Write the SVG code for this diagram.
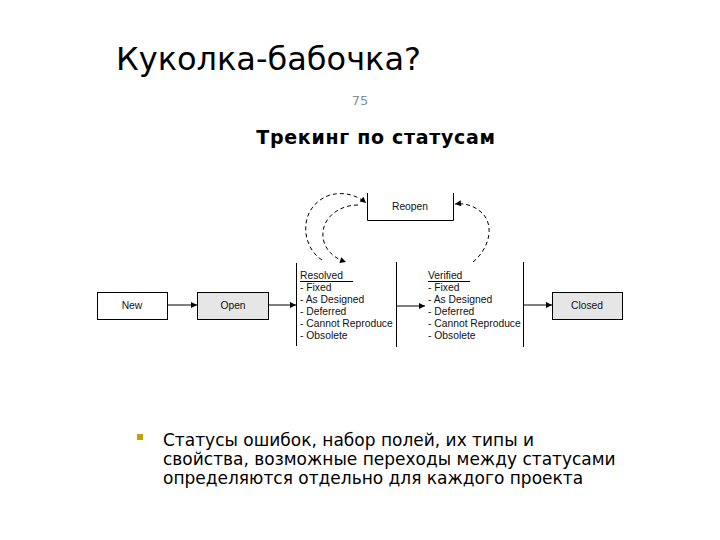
<svg xmlns="http://www.w3.org/2000/svg" width="720" height="540" viewBox="0 0 720 540">
<style>
.box{stroke:#000;stroke-width:1}
.lbl{font-family:"Liberation Sans",Arial,sans-serif;font-size:10.3px;fill:#111}
.mid{text-anchor:middle}
.ln{stroke:#000;stroke-width:1;fill:none}
.dash{stroke:#000;stroke-width:1;fill:none;stroke-dasharray:4,3}
.head{font-family:"DejaVu Sans",sans-serif;fill:#000}
</style>
<defs>
<marker id="ah" viewBox="0 0 10 10" refX="10" refY="5" markerWidth="7" markerHeight="6" orient="auto" markerUnits="userSpaceOnUse">
<path d="M0,0 L10,5 L0,10 z" fill="#000"/>
</marker>
</defs>
<rect width="720" height="540" fill="#fff"/>
<text class="head" x="116" y="70" font-size="32">Куколка-бабочка?</text>
<text x="360" y="105" font-family="DejaVu Sans,sans-serif" font-size="13" fill="#7f9496" text-anchor="middle">75</text>
<text class="head" x="376" y="144" font-size="19" font-weight="bold" letter-spacing="0.7" text-anchor="middle">Трекинг по статусам</text>

<g id="connectors">
<line class="ln" x1="167" y1="305" x2="197" y2="305" marker-end="url(#ah)"/>
<line class="ln" x1="268" y1="305" x2="296" y2="305" marker-end="url(#ah)"/>
<line class="ln" x1="396" y1="306" x2="425" y2="306" marker-end="url(#ah)"/>
<line class="ln" x1="523" y1="305" x2="552" y2="305" marker-end="url(#ah)"/>
<path class="dash" d="M322,260 C300,246 298,206 330,195 C345,191 358,196 366,203" marker-end="url(#ah)"/>
<path class="dash" d="M358,205 C336,205 318,222 324,242 C328,254 337,259 346,262" marker-end="url(#ah)"/>
<path class="dash" d="M473,262 C490,248 495,224 481,212 C473,205 464,203 455,204" marker-end="url(#ah)"/>
</g>

<g id="new">
<rect class="box" x="97.5" y="292.5" width="70" height="27" fill="#fff"/>
<text class="lbl mid" x="132" y="309">New</text>
</g>
<g id="open">
<rect class="box" x="197.5" y="292.5" width="71" height="27" fill="#e6e6e6"/>
<text class="lbl mid" x="233" y="309">Open</text>
</g>
<g id="reopen">
<path class="ln" d="M367.5,193 V220.5 H453.5 V193"/>
<text class="lbl mid" x="410" y="210">Reopen</text>
</g>
<g id="resolved">
<line class="ln" x1="296.5" y1="263" x2="296.5" y2="346"/>
<line class="ln" x1="396.5" y1="262" x2="396.5" y2="347"/>
<text class="lbl" x="300" y="279">Resolved</text>
<line class="ln" x1="300" y1="281.5" x2="353" y2="281.5"/>
<text class="lbl" x="300" y="291">- Fixed</text>
<text class="lbl" x="300" y="303">- As Designed</text>
<text class="lbl" x="300" y="315">- Deferred</text>
<text class="lbl" x="300" y="327">- Cannot Reproduce</text>
<text class="lbl" x="300" y="339">- Obsolete</text>
</g>
<g id="verified">
<line class="ln" x1="523.5" y1="262" x2="523.5" y2="347"/>
<text class="lbl" x="428" y="279">Verified</text>
<line class="ln" x1="428" y1="281.5" x2="470" y2="281.5"/>
<text class="lbl" x="428" y="291">- Fixed</text>
<text class="lbl" x="428" y="303">- As Designed</text>
<text class="lbl" x="428" y="315">- Deferred</text>
<text class="lbl" x="428" y="327">- Cannot Reproduce</text>
<text class="lbl" x="428" y="339">- Obsolete</text>
</g>
<g id="closed">
<rect class="box" x="552.5" y="292.5" width="70" height="27" fill="#e6e6e6"/>
<text class="lbl mid" x="587" y="309">Closed</text>
</g>

<rect x="137" y="434" width="6" height="6" fill="#c9a000"/>
<text class="head" font-size="17">
<tspan x="163" y="446">Статусы ошибок, набор полей, их типы и</tspan>
<tspan x="163" y="465">свойства, возможные переходы между статусами</tspan>
<tspan x="163" y="484">определяются отдельно для каждого проекта</tspan>
</text>
</svg>
